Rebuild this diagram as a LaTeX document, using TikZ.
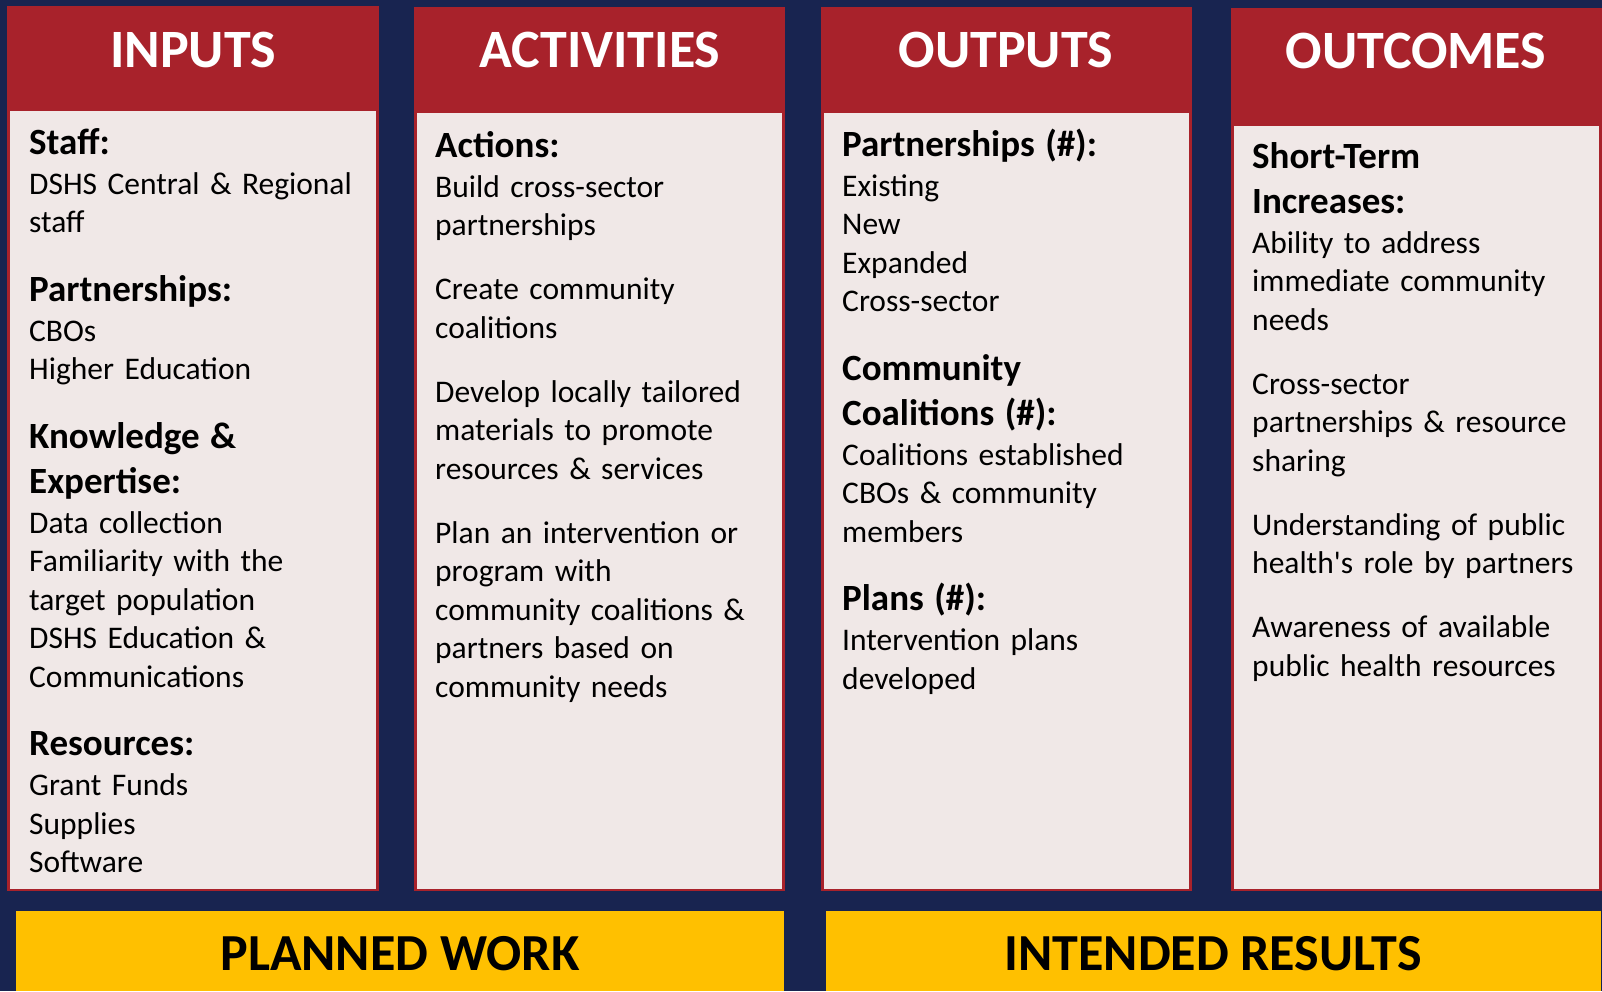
\documentclass[tikz,border=0pt]{standalone}
\usepackage{fontspec}
\setmainfont{Carlito}[Ligatures=TeXOff]
\definecolor{navy}{RGB}{24,36,80}
\definecolor{lmred}{RGB}{168,34,43}
\definecolor{paper}{RGB}{240,232,231}
\definecolor{gold}{RGB}{255,192,0}
\setlength\parindent{0pt}
\setlength\parskip{0pt}
\newcommand\lmhead{\fontsize{37}{45}\selectfont\bfseries}
\newcommand\lmbody{\fontsize{31.5}{38.5}\selectfont}
\newcommand\hd[1]{{\lmhead #1\par}\vspace{1.5pt}}
\newcommand\lmhgap{\vspace{23.5pt}}
\newcommand\lmpgap{\vspace{25.5pt}}

\begin{document}
\begin{tikzpicture}[x=1pt,y=-1pt,
  frame/.style={fill=lmred},
  sheet/.style={fill=paper},
  band/.style={fill=gold},
  title/.style={anchor=base,text=white,font=\fontsize{54}{60}\selectfont\bfseries},
  bandtext/.style={anchor=base,text=black,font=\fontsize{52}{60}\selectfont\bfseries},
  body/.style={anchor=base west,inner sep=0pt,text width=345pt,align=left,font=\lmbody}]
  \useasboundingbox[fill=navy] (0,0) rectangle (1602,991);

  % the four columns
  \fill[frame] (7,6) rectangle (379,891);
  \fill[sheet] (10,111) rectangle (376,889);
  \fill[frame] (414,7) rectangle (785,891);
  \fill[sheet] (417,113) rectangle (782,889);
  \fill[frame] (821,7) rectangle (1192,891);
  \fill[sheet] (824,113) rectangle (1189,889);
  \fill[frame] (1231,8) rectangle (1602,891);
  \fill[sheet] (1234,126) rectangle (1599,889);

  \node[title] (inputs) at (193,67) {INPUTS};
  \node[title] (activities) at (600,67) {ACTIVITIES};
  \node[title] (outputs) at (1006,67) {OUTPUTS};
  \node[title] (outcomes) at (1416,68) {OUTCOMES};

  \node[body] (inbody) at (29,154) {\hd{Staff:}
    DSHS Central \& Regional\par staff\par\lmhgap
    \hd{Partnerships:}
    CBOs\par Higher Education\par\lmhgap
    \hd{Knowledge \&\par Expertise:}
    Data collection\par Familiarity with the\par target population\par
    DSHS Education \&\par Communications\par\lmhgap
    \hd{Resources:}
    Grant Funds\par Supplies\par Software\par};

  \node[body] (actbody) at (435,157) {\hd{Actions:}
    Build cross-sector\par partnerships\par\lmpgap
    Create community\par coalitions\par\lmpgap
    Develop locally tailored\par materials to promote\par resources \& services\par\lmpgap
    Plan an intervention or\par program with\par community coalitions \&\par
    partners based on\par community needs\par};

  \node[body] (outbody) at (842,156) {\hd{Partnerships (\#):}
    Existing\par New\par Expanded\par Cross-sector\par\lmhgap
    \hd{Community\par Coalitions (\#):}
    Coalitions established\par CBOs \& community\par members\par\lmhgap
    \hd{Plans (\#):}
    Intervention plans\par developed\par};

  \node[body] (ocbody) at (1252,168) {\hd{Short-Term\par Increases:}
    Ability to address\par immediate community\par needs\par\lmpgap
    Cross-sector\par partnerships \& resource\par sharing\par\lmpgap
    Understanding of public\par health's role by partners\par\lmpgap
    Awareness of available\par public health resources\par};

  % bottom bands
  \fill[band] (16,911) rectangle (784,991);
  \fill[band] (826,911) rectangle (1601,991);
  \node[bandtext] (planned) at (400,970) {PLANNED WORK};
  \node[bandtext] (results) at (1213,970) {INTENDED RESULTS};
\end{tikzpicture}
\end{document}
